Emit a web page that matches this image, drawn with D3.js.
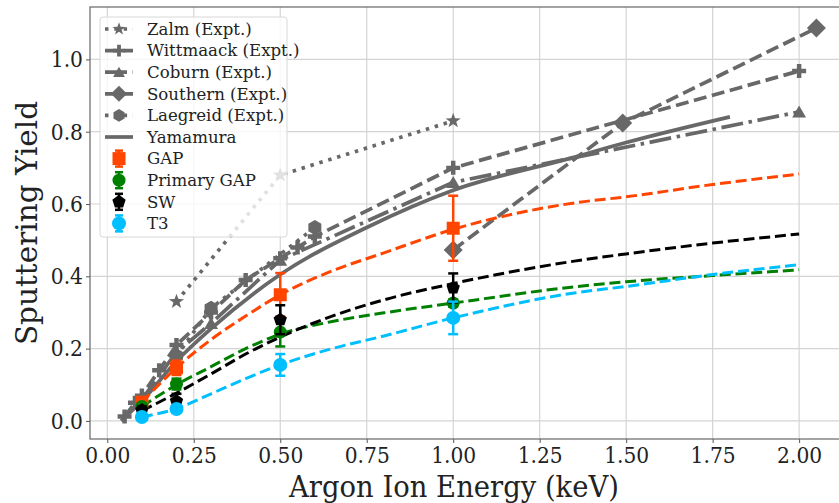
<!DOCTYPE html>
<html lang="en">
<head>
<meta charset="UTF-8">
<title>Sputtering Yield vs Argon Ion Energy</title>
<script src="https://d3js.org/d3.v7.min.js"></script>
<style>
    body { margin: 0; background: #fff; }
    svg { display: block; font-family: "DejaVu Serif", serif; }
    .tick text { font-size: 23px; fill: #222; }
    .axis-label { font-size: 29.5px; fill: #222; }
    .legend-text { font-size: 16.6px; fill: #222; }
</style>
</head>
<body>
<div id="chart"></div>
<script>
// ---- data ----
const xTicks = [0, 0.25, 0.5, 0.75, 1.0, 1.25, 1.5, 1.75, 2.0];
const yTicks = [0, 0.2, 0.4, 0.6, 0.8, 1.0];

// experimental reference sets (gray)
const zalmE = [0.2, 0.5, 1.0];
const zalmY = [0.33, 0.68, 0.83];
const wittE = [0.05, 0.08, 0.1, 0.15, 0.2, 0.3, 0.4, 0.5, 0.55, 0.6, 1.0, 2.0];
const wittY = [0.012, 0.05, 0.07, 0.14, 0.21, 0.30, 0.39, 0.45, 0.48, 0.51, 0.70, 0.968];
const coburnE = [0.1, 0.2, 0.3, 0.5, 1.0, 2.0];
const coburnY = [0.06, 0.19, 0.27, 0.445, 0.66, 0.855];
const southernE = [1.0, 1.49, 2.05];
const southernY = [0.473, 0.824, 1.087];
const laegE = [0.2, 0.3, 0.6];
const laegY = [0.18, 0.312, 0.535];
const yamaE = [0.04, 0.1, 0.2, 0.3, 0.5, 0.75, 1.0, 1.34, 1.5, 1.8];
const yamaY = [0.0, 0.055, 0.165, 0.255, 0.405, 0.535, 0.638, 0.727, 0.77, 0.841];

// simulation points with error bars
const simE = [0.1, 0.2, 0.5, 1.0];
const gapY = [0.052, 0.147, 0.349, 0.533];
const gapErr = [0.012, 0.02, 0.06, 0.09];
const primY = [0.04, 0.102, 0.246, 0.326];
const primErr = [0.006, 0.015, 0.04, 0.01];
const swY = [0.03, 0.055, 0.28, 0.368];
const swErr = [0.01, 0.02, 0.04, 0.04];
const t3Y = [0.011, 0.033, 0.155, 0.285];
const t3Err = [0.005, 0.01, 0.03, 0.045];

// fitted curves (dashed)
const fitE = [0.1, 0.2, 0.3, 0.4, 0.5, 0.65, 0.8, 1.0, 1.35, 1.5, 1.75, 2.0];
const gapFit = [0.052, 0.147, 0.225, 0.29, 0.349, 0.415, 0.465, 0.53, 0.603, 0.62, 0.654, 0.683];
const primFit = [0.04, 0.1, 0.15, 0.2, 0.24, 0.275, 0.299, 0.326, 0.371, 0.385, 0.402, 0.418];
const swFit = [0.028, 0.077, 0.13, 0.185, 0.232, 0.29, 0.335, 0.38, 0.442, 0.462, 0.492, 0.517];
const t3Fit = [0.011, 0.034, 0.075, 0.117, 0.155, 0.2, 0.235, 0.285, 0.354, 0.372, 0.405, 0.432];

const gray = "#686868";

// ---- layout ----
const W = 839, H = 503;
const plot = { left: 90, right: 851, top: 7, bottom: 439 };

const svg = d3.select("#chart").append("svg")
    .attr("width", W).attr("height", H);

svg.append("rect").attr("width", W).attr("height", H).attr("fill", "#fff");

const x = d3.scaleLinear().domain([-0.05, 2.15]).range([plot.left, plot.right]);
const y = d3.scaleLinear().domain([-0.05, 1.145]).range([plot.bottom, plot.top]);

svg.append("defs").append("clipPath").attr("id", "clip")
    .append("rect")
    .attr("x", plot.left).attr("y", plot.top)
    .attr("width", plot.right - plot.left).attr("height", plot.bottom - plot.top);

// grid
svg.append("g").selectAll("line").data(xTicks).join("line")
    .attr("x1", d => x(d)).attr("x2", d => x(d))
    .attr("y1", plot.top).attr("y2", plot.bottom)
    .attr("stroke", "#d4d4d4").attr("stroke-width", 1.2);
svg.append("g").selectAll("line").data(yTicks).join("line")
    .attr("y1", d => y(d)).attr("y2", d => y(d))
    .attr("x1", plot.left).attr("x2", plot.right)
    .attr("stroke", "#d4d4d4").attr("stroke-width", 1.2);

// axes
const xAxis = svg.append("g")
    .attr("transform", `translate(0,${plot.bottom})`)
    .call(d3.axisBottom(x).tickValues(xTicks).tickFormat(d3.format(".2f")).tickSize(4).tickSizeOuter(0));
const yAxis = svg.append("g")
    .attr("transform", `translate(${plot.left},0)`)
    .call(d3.axisLeft(y).tickValues(yTicks).tickFormat(d3.format(".1f")).tickSize(4).tickSizeOuter(0));
[xAxis, yAxis].forEach(a => {
    a.select(".domain").remove();
    a.selectAll(".tick line").attr("stroke", "#555").attr("stroke-width", 1);
    a.selectAll(".tick text")
        .attr("font-family", "DejaVu Serif, serif")
        .attr("transform", "scale(0.88,1)");   // the source figure is a bit narrow
});
xAxis.selectAll(".tick text").attr("y", 5).attr("dy", "0.84em");
yAxis.selectAll(".tick text").attr("x", -8);

// frame
svg.append("rect")
    .attr("x", plot.left).attr("y", plot.top)
    .attr("width", plot.right - plot.left).attr("height", plot.bottom - plot.top)
    .attr("fill", "none").attr("stroke", "#666").attr("stroke-width", 1.2);

// ---- marker shapes ----
function polygon(pts) {
    return "M" + pts.map(p => p[0].toFixed(2) + "," + p[1].toFixed(2)).join("L") + "Z";
}
function regular(n, r, rot) {
    return d3.range(n).map(i => {
        const a = rot + i * 2 * Math.PI / n;
        return [r * Math.sin(a), -r * Math.cos(a)];
    });
}
const shapes = {
    star: r => polygon(d3.range(10).map(i => {
        const rr = i % 2 ? r * 0.4 : r, a = i * Math.PI / 5;
        return [rr * Math.sin(a), -rr * Math.cos(a)];
    })),
    plus: r => {
        const t = r * 0.32;
        return polygon([[-t, -r], [t, -r], [t, -t], [r, -t], [r, t], [t, t], [t, r], [-t, r], [-t, t], [-r, t], [-r, -t], [-t, -t]]);
    },
    triangle: r => polygon(regular(3, r, 0).map(p => [p[0], p[1] + r * 0.2])),
    diamond: r => polygon([[0, -r], [r, 0], [0, r], [-r, 0]]),
    hexagon: r => polygon(regular(6, r, 0)),
    pentagon: r => polygon(regular(5, r, 0)),
    square: r => polygon([[-r, -r], [r, -r], [r, r], [-r, r]]),
    circle: r => d3.symbol(d3.symbolCircle, Math.PI * r * r)()
};

// ---- series definitions ----
const grayLines = [
    { name: "Zalm (Expt.)", E: zalmE, Y: zalmY, dash: "3.5,5.8", marker: "star", r: 8, curve: false },
    { name: "Wittmaack (Expt.)", E: wittE, Y: wittY, dash: "13,5.6", marker: "plus", r: 7, curve: false },
    { name: "Coburn (Expt.)", E: coburnE, Y: coburnY, dash: "22,5.6,3.5,5.6", marker: "triangle", r: 8, curve: false },
    { name: "Southern (Expt.)", E: southernE, Y: southernY, dash: "13,5.6", marker: "diamond", r: 9.5, curve: false },
    { name: "Laegreid (Expt.)", E: laegE, Y: laegY, dash: "3.5,5.8", marker: "hexagon", r: 7.5, curve: false },
    { name: "Yamamura", E: yamaE, Y: yamaY, dash: null, marker: null, r: 0, curve: true }
];
const simSets = [
    { name: "GAP", Y: gapY, err: gapErr, fit: gapFit, color: "#ff4500", marker: "square", r: 6.5 },
    { name: "Primary GAP", Y: primY, err: primErr, fit: primFit, color: "#008000", marker: "circle", r: 6.5 },
    { name: "SW", Y: swY, err: swErr, fit: swFit, color: "#000000", marker: "pentagon", r: 7 },
    { name: "T3", Y: t3Y, err: t3Err, fit: t3Fit, color: "#00bfff", marker: "circle", r: 7 }
];

const body = svg.append("g").attr("clip-path", "url(#clip)");
const line = d3.line().x(d => x(d[0])).y(d => y(d[1]));
const smooth = d3.line().curve(d3.curveMonotoneX).x(d => x(d[0])).y(d => y(d[1]));

// gray reference lines
grayLines.forEach(s => {
    const pts = s.E.map((e, i) => [e, s.Y[i]]);
    body.append("path")
        .attr("d", (s.curve ? smooth : line)(pts))
        .attr("fill", "none")
        .attr("stroke", gray)
        .attr("stroke-width", 3.7)
        .attr("stroke-dasharray", s.dash);
    if (s.marker) {
        body.append("g").selectAll("path").data(pts).join("path")
            .attr("transform", d => `translate(${x(d[0])},${y(d[1])})`)
            .attr("d", shapes[s.marker](s.r))
            .attr("fill", gray);
    }
});

// fitted dashed curves
simSets.forEach(s => {
    const pts = fitE.map((e, i) => [e, s.fit[i]]);
    body.append("path")
        .attr("d", smooth(pts))
        .attr("fill", "none")
        .attr("stroke", s.color)
        .attr("stroke-width", 3)
        .attr("stroke-dasharray", "11,4.8");
});

// error bars + markers
simSets.forEach(s => {
    const g = body.append("g");
    simE.forEach((e, i) => {
        const cx = x(e), lo = y(s.Y[i] - s.err[i]), hi = y(s.Y[i] + s.err[i]);
        g.append("line").attr("x1", cx).attr("x2", cx).attr("y1", lo).attr("y2", hi)
            .attr("stroke", s.color).attr("stroke-width", 2.5);
        [lo, hi].forEach(v => g.append("line")
            .attr("x1", cx - 5).attr("x2", cx + 5).attr("y1", v).attr("y2", v)
            .attr("stroke", s.color).attr("stroke-width", 2.5));
        g.append("path")
            .attr("transform", `translate(${cx},${y(s.Y[i])})`)
            .attr("d", shapes[s.marker](s.r))
            .attr("fill", s.color);
    });
});

// ---- legend ----
const leg = svg.append("g").attr("transform", "translate(100,17)");
leg.append("rect")
    .attr("width", 187).attr("height", 220).attr("rx", 3)
    .attr("fill", "rgba(255,255,255,0.8)")
    .attr("stroke", "#d8d8d8").attr("stroke-width", 1);

const rowY = i => 12 + i * 21.6;
grayLines.forEach((s, i) => {
    const g = leg.append("g").attr("transform", `translate(0,${rowY(i)})`);
    g.append("line").attr("x1", 5).attr("x2", 33).attr("y1", 0).attr("y2", 0)
        .attr("stroke", gray).attr("stroke-width", 3.7)
        .attr("stroke-dasharray", s.dash);
    if (s.marker) {
        g.append("path").attr("transform", "translate(19,0)")
            .attr("d", shapes[s.marker](s.r * 0.85)).attr("fill", gray);
    }
    g.append("text").attr("class", "legend-text")
        .attr("x", 47).attr("y", 0).attr("dy", "0.35em").text(s.name);
});
simSets.forEach((s, j) => {
    const g = leg.append("g").attr("transform", `translate(0,${rowY(grayLines.length + j)})`);
    g.append("line").attr("x1", 19).attr("x2", 19).attr("y1", -8).attr("y2", 8)
        .attr("stroke", s.color).attr("stroke-width", 2.5);
    [-8, 8].forEach(v => g.append("line").attr("x1", 15).attr("x2", 23).attr("y1", v).attr("y2", v)
        .attr("stroke", s.color).attr("stroke-width", 2.5));
    g.append("path").attr("transform", "translate(19,0)")
        .attr("d", shapes[s.marker](s.r)).attr("fill", s.color);
    g.append("text").attr("class", "legend-text")
        .attr("x", 47).attr("y", 0).attr("dy", "0.35em").text(s.name);
});

// ---- axis titles ----
svg.append("text").attr("class", "axis-label")
    .attr("transform", "translate(454,497) scale(0.93,1)")
    .attr("text-anchor", "middle")
    .text("Argon Ion Energy (keV)");
svg.append("text").attr("class", "axis-label")
    .attr("transform", `translate(37,${(plot.top + plot.bottom) / 2}) rotate(-90)`)
    .attr("text-anchor", "middle")
    .text("Sputtering Yield");
</script>
</body>
</html>
